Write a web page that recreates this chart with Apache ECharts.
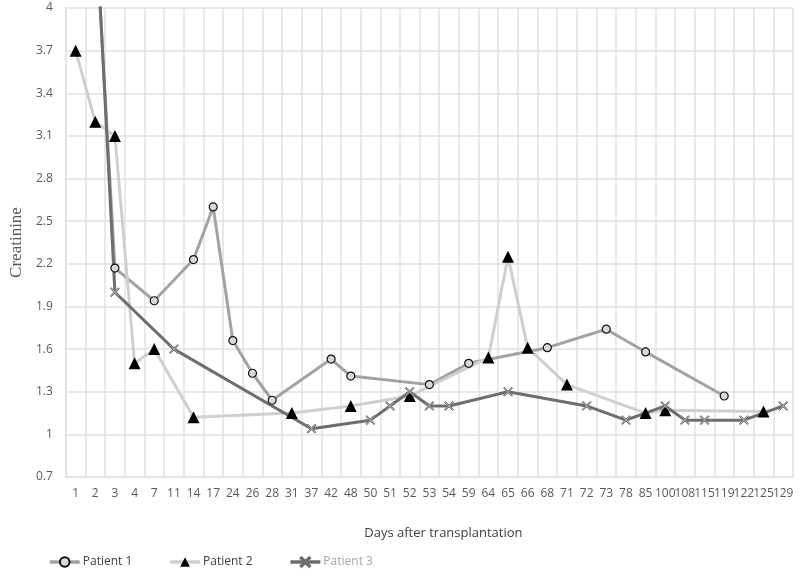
<!DOCTYPE html>
<html>
<head>
<meta charset="utf-8">
<title>Creatinine after transplantation</title>
<script src="https://cdn.jsdelivr.net/npm/echarts@6/dist/echarts.min.js"></script>
<style>
  html, body { margin: 0; padding: 0; background: #fff; }
  #chart { width: 800px; height: 578px; }
</style>
</head>
<body>
<div id="chart"></div>
<script>
  // days after transplantation (category axis)
  var days = ['1', '2', '3', '4', '7', '11', '14', '17', '24', '26', '28', '31', '37', '42', '48', '50', '51', '52', '53', '54',
    '59', '64', '65', '66', '68', '71', '72', '73', '78', '85', '100', '108', '115', '119', '122', '125', '129']

  // creatinine per patient, null = no measurement that day
  var patient1 = [null, 4.6, 2.17, null, 1.94, null, 2.23, 2.6, 1.66, 1.43, 1.24, null, null, 1.53, 1.41, null, null, null, 1.35, null,
    1.5, null, null, null, 1.61, null, null, 1.74, null, 1.58, null, null, null, 1.27, null, null, null]
  var patient2 = [3.7, 3.2, 3.1, 1.5, 1.6, null, 1.12, null, null, null, null, 1.15, null, null, 1.2, null, null, 1.27, null, null,
    null, 1.54, 2.25, 1.61, null, 1.35, null, null, null, 1.15, 1.17, null, null, null, null, 1.16, null]
  var patient3 = [null, 4.7, 2.0, null, null, 1.6, null, null, null, null, null, null, 1.04, null, null, 1.1, 1.2, 1.3, 1.2, 1.2,
    null, null, 1.3, null, null, null, 1.2, null, 1.1, null, 1.2, 1.1, 1.1, null, 1.1, null, 1.2]

  var yTicks = { min: 0.7, max: 4, step: 0.3 }

  var gridColor = '#e2e2e2'
  var labelColor = '#595959'
  var crossPath = 'path://M1,0 L5,4 L9,0 L10,1 L6,5 L10,9 L9,10 L5,6 L1,10 L0,9 L4,5 L0,1 Z'

  var chart = echarts.init(document.getElementById('chart'))
  chart.setOption({
    animation: false,
    grid: { left: 53, right: 7, top: 8, bottom: 101 },
    legend: {
      left: 43,
      top: 551,
      itemWidth: 30,
      itemHeight: 12,
      itemGap: 36,
      lineStyle: { width: 3.5 },
      textStyle: { fontFamily: 'Open Sans', fontSize: 12, color: '#404040', padding: [0, 0, 0, -2] },
      data: [
        { name: 'Patient 1' },
        { name: 'Patient 2' },
        { name: 'Patient 3', textStyle: { color: '#a6a6a6' } }
      ]
    },
    xAxis: {
      type: 'category',
      data: days,
      boundaryGap: true,
      name: 'Days after transplantation',
      nameLocation: 'middle',
      nameGap: 50,
      nameTextStyle: {
        fontFamily: 'Open Sans',
        fontSize: 13,
        color: '#404040',
        padding: [0, 0, 0, 28]
      },
      axisLine: { lineStyle: { color: gridColor, width: 1.5 } },
      axisTick: { show: false },
      axisLabel: { interval: 0, margin: 11, fontFamily: 'Open Sans', fontSize: 12, color: labelColor },
      splitLine: { show: true, interval: 0, lineStyle: { color: gridColor, width: 1.5 } }
    },
    yAxis: {
      type: 'value',
      min: yTicks.min,
      max: yTicks.max,
      interval: yTicks.step,
      name: 'Creatinine',
      nameLocation: 'middle',
      nameGap: 33,
      nameTextStyle: { fontFamily: 'Liberation Serif', fontSize: 17, color: labelColor },
      axisLine: { show: true, lineStyle: { color: gridColor, width: 1.5 } },
      axisTick: { show: false },
      axisLabel: {
        margin: 13,
        fontFamily: 'Open Sans',
        fontSize: 12,
        color: labelColor,
        formatter: function (v) { return String(+v.toFixed(1)) }
      },
      splitLine: { lineStyle: { color: gridColor, width: 1.5 } }
    },
    series: [
      {
        name: 'Patient 1',
        type: 'line',
        data: patient1,
        connectNulls: true,
        symbol: 'circle',
        symbolSize: 8,
        lineStyle: { color: '#a3a3a3', width: 3 },
        itemStyle: { color: '#d9d9d9', borderColor: '#111', borderWidth: 1.2 }
      },
      {
        name: 'Patient 2',
        type: 'line',
        data: patient2,
        connectNulls: true,
        symbol: 'triangle',
        symbolSize: 12,
        lineStyle: { color: '#cfcfcf', width: 3 },
        itemStyle: { color: '#000', borderWidth: 0 }
      },
      {
        name: 'Patient 3',
        type: 'line',
        data: patient3,
        connectNulls: true,
        symbol: crossPath,
        symbolSize: 9,
        lineStyle: { color: '#6e6e6e', width: 3 },
        itemStyle: { color: '#bdbdbd', borderColor: '#6e6e6e', borderWidth: 1 }
      }
    ]
  })
</script>
</body>
</html>
